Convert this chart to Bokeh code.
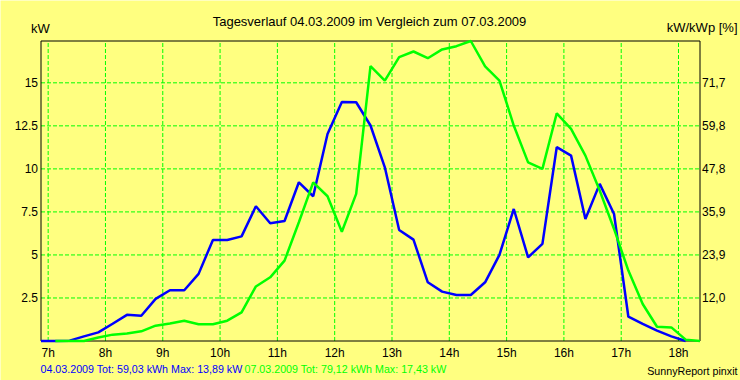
import numpy as np
from bokeh.plotting import figure
from bokeh.models import Range1d, Label
from bokeh.core.properties import value
from bokeh.embed import file_html
from bokeh.resources import INLINE

# 15-minute interval midpoints (hours), 06:52.5 ... 18:22.5
times = list(np.arange(6.875, 18.376, 0.25))

nan = float("nan")
# 04.03.2009 (blue), kW
kw_0403 = [0, 0, 0.02, 0.27, 0.5, 1.0, 1.52, 1.47, 2.45, 2.95,
           2.95, 3.9, 5.87, 5.87, 6.08, 7.83, 6.84, 6.97, 9.22, 8.41,
           12.03, 13.89, 13.87, 12.52, 10.09, 6.45, 5.89, 3.41, 2.87, 2.67,
           2.67, 3.41, 5.0, 7.67, 4.86, 5.64, 11.26, 10.77, 7.09, 9.13,
           7.38, 1.41, 0.99, 0.6, 0.27, 0.0, nan]
# 07.03.2009 (green), kW
kw_0703 = [nan, 0, 0, 0, 0.2, 0.37, 0.44, 0.56, 0.89, 1.02,
           1.18, 0.97, 0.97, 1.18, 1.66, 3.17, 3.70, 4.67, 6.9, 9.22,
           8.41, 6.35, 8.55, 15.97, 15.13, 16.49, 16.82, 16.43, 16.94, 17.13,
           17.43, 15.95, 15.13, 12.52, 10.38, 10.0, 13.23, 12.32, 10.77, 8.74,
           6.51, 4.09, 2.15, 0.83, 0.79, 0.08, 0]

x_ticks = [7, 8, 9, 10, 11, 12, 13, 14, 15, 16, 17, 18]
x_labels = ["7h", "8h", "9h", "10h", "11h", "12h", "13h", "14h", "15h", "16h", "17h", "18h"]
y_ticks = [2.5, 5, 7.5, 10, 12.5, 15]
y_labels = ["2.5", "5", "7.5", "10", "12.5", "15"]
pct_labels = ["12,0", "23,9", "35,9", "47,8", "59,8", "71,7"]

title_text = "Tagesverlauf 04.03.2009 im Vergleich zum 07.03.2009"
info_0403 = "04.03.2009 Tot: 59,03 kWh Max: 13,89 kW"
info_0703 = "07.03.2009 Tot: 79,12 kWh Max: 17,43 kW"

BG = "#FFFF80"
FONT = "Liberation Sans"
GRID = "#00FF00"
W, H = 740, 380
# plot box in canvas pixels
L, R, T, B = 40.5, 699.5, 40.5, 340.5

t0, t1 = times[0], times[-1]
ymax = float(np.nanmax(kw_0703))
kx = (R - L) / (t1 - t0)
ky = (B - T) / ymax

p = figure(width=W, height=H,
           x_range=Range1d(t0 - L / kx, t1 + (W - R) / kx),
           y_range=Range1d(-(H - B) / ky, ymax + T / ky),
           x_axis_type=None, y_axis_type=None,
           output_backend="svg", toolbar_location=None, tools="",
           min_border=0, min_border_left=0, min_border_right=0,
           min_border_top=0, min_border_bottom=0,
           background_fill_color=BG, border_fill_color=BG,
           outline_line_color=None)
p.grid.visible = False

# grid
p.segment(x0=x_ticks, y0=0, x1=x_ticks, y1=ymax,
          line_color=GRID, line_width=1, line_dash="4 2")
p.segment(x0=t0, y0=y_ticks, x1=t1, y1=y_ticks,
          line_color=GRID, line_width=1, line_dash="4 2")
# plot box
p.quad(left=t0, right=t1, bottom=0, top=ymax,
       fill_color=None, line_color="black", line_width=1)

# series
p.line(times, kw_0403, line_color="#0000FF", line_width=2.5)
p.line(times, kw_0703, line_color="#00FF00", line_width=2.5)

# tick labels
p.text(x=x_ticks, y=0, text=x_labels, text_align="center", text_baseline="middle",
       y_offset=12, text_font=value(FONT), text_font_size=value("12px"),
       text_color="black")
p.text(x=t0, y=y_ticks, text=y_labels, text_align="right", text_baseline="middle",
       x_offset=-3, text_font=value(FONT), text_font_size=value("12px"),
       text_color="black")
p.text(x=t1, y=y_ticks, text=pct_labels, text_align="left", text_baseline="middle",
       x_offset=2, text_font=value(FONT), text_font_size=value("12px"),
       text_color="black")

def lab(x, y, text, align="left", color="black", size="12px"):
    p.add_layout(Label(x=x, y=y, x_units="screen", y_units="screen", text=text,
                       text_align=align, text_baseline="middle",
                       text_font=FONT, text_font_size=size, text_color=color))

lab(369, H - 21, title_text, align="center", size="13px")
lab(30.5, H - 27.5, "kW", size="13px")
lab(737, H - 27, "kW/kWp [%]", align="right", size="13px")
lab(40, H - 368.5, info_0403, color="#0000FF", size="10.7px")
lab(244, H - 368.5, info_0703, color="#00FF00", size="10.7px")
lab(737, H - 370.5, "SunnyReport pinxit", align="right", size="10.7px")

open("out.html", "w").write(file_html(p, INLINE))
